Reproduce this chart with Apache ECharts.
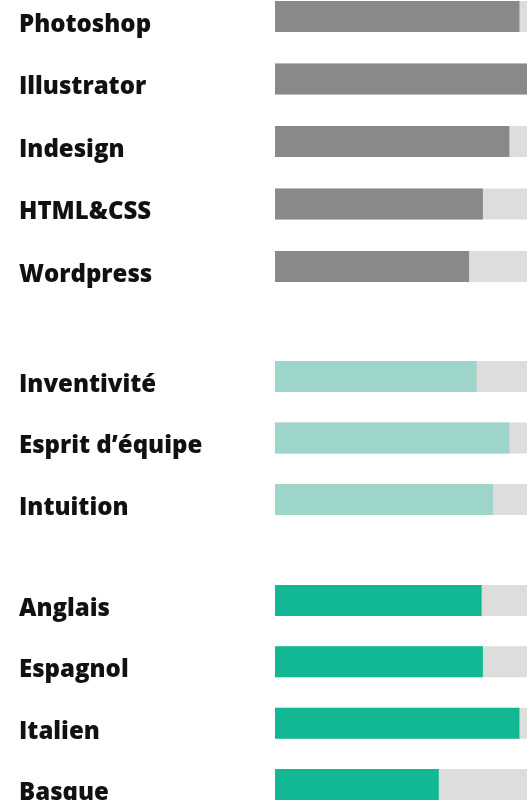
<!DOCTYPE html>
<html>
<head>
<meta charset="utf-8">
<script src="https://cdn.jsdelivr.net/npm/echarts@6/dist/echarts.min.js"></script>
<style>
  html, body { margin: 0; padding: 0; background: #fff; }
  #chart { width: 527px; height: 800px; }
</style>
</head>
<body>
<div id="chart"></div>
<script>
// logiciels
const softNames = ['Photoshop', 'Illustrator', 'Indesign', 'HTML&CSS', 'Wordpress'];
const softValues = [97, 100, 93, 82.5, 77];
// qualités
const skillNames = ['Inventivité', 'Esprit d’équipe', 'Intuition'];
const skillValues = [80, 93, 86.5];
// langues
const langNames = ['Anglais', 'Espagnol', 'Italien', 'Basque'];
const langValues = [82, 82.5, 97, 65];

const chart = echarts.init(document.getElementById('chart'));

// trois blocs, un grid chacun (top = centre de la 1re barre, bas = centre de la dernière)
const blocks = [
  { names: softNames, values: softValues, color: '#88898b', top: 16.5, height: 250 },
  { names: skillNames, values: skillValues, color: '#9dd5ca', top: 376.5, height: 123 },
  { names: langNames, values: langValues, color: '#12b894', top: 600.5, height: 184 }
];

const option = {
  animation: false,
  grid: blocks.map(b => ({
    left: 275,
    right: 0,
    top: b.top,
    height: b.height,
    outerBoundsMode: 'none' // pas de rétrécissement auto du grid
  })),
  xAxis: blocks.map((b, i) => ({
    type: 'value',
    gridIndex: i,
    min: 0,
    max: 100,
    show: false
  })),
  yAxis: blocks.map((b, i) => ({
    type: 'category',
    gridIndex: i,
    inverse: true,
    boundaryGap: false,
    data: b.names,
    axisLine: { show: false },
    axisTick: { show: false },
    splitLine: { show: false },
    axisLabel: {
      align: 'left',
      verticalAlign: 'top',
      lineHeight: 17,
      margin: 256,
      color: '#111',
      fontFamily: 'Open Sans',
      fontWeight: 800,
      fontSize: 24
    }
  })),
  series: blocks.map((b, i) => ({
    type: 'bar',
    xAxisIndex: i,
    yAxisIndex: i,
    data: b.values,
    barWidth: 31,
    clip: false,
    itemStyle: { color: b.color },
    showBackground: true,
    backgroundStyle: { color: '#dddddc' }
  }))
};

chart.setOption(option);
</script>
</body>
</html>
